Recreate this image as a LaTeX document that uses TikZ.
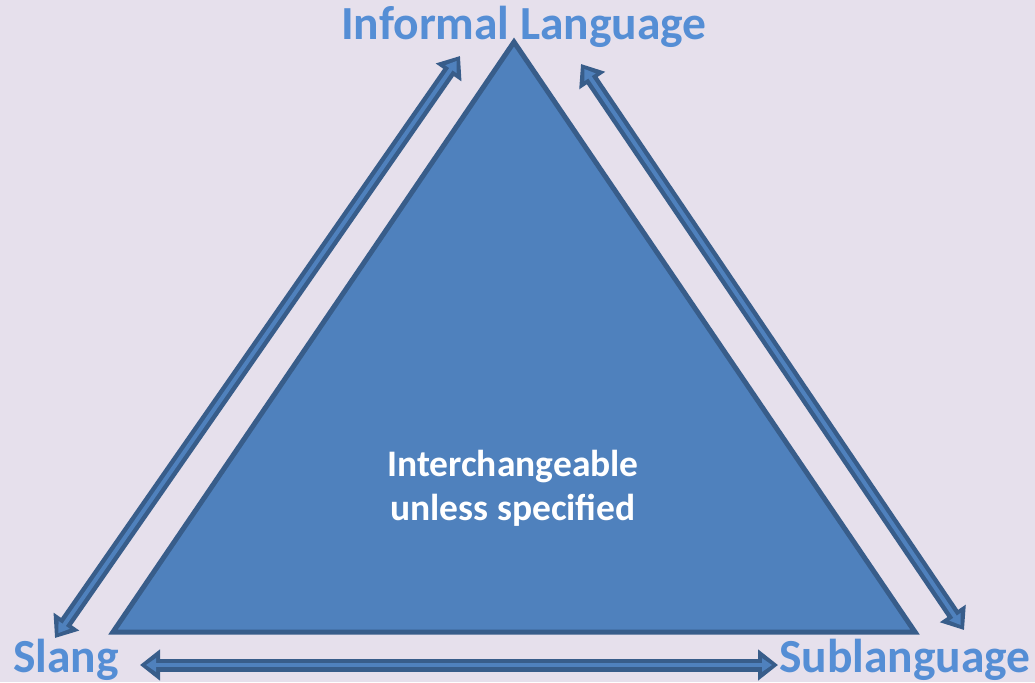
\documentclass[tikz,border=0pt]{standalone}
\usepackage{fontspec}
\setmainfont{Carlito}
\usetikzlibrary{arrows.meta}
\definecolor{bg}{HTML}{E6E0EC}
\definecolor{trifill}{HTML}{4F81BD}
\definecolor{tridraw}{HTML}{385D8A}
\definecolor{labelblue}{HTML}{558ED5}
\tikzset{
  outerarrow/.style={draw=tridraw, line width=13pt, {Triangle[length=20pt,width=30pt]}-{Triangle[length=20pt,width=30pt]}},
  innerarrow/.style={draw=trifill, line width=4pt, shorten <=6pt, shorten >=6pt, {Triangle[length=10pt,width=13pt]}-{Triangle[length=10pt,width=13pt]}},
  corner/.style={font=\bfseries\fontsize{47.5}{56}\selectfont, text=labelblue, inner sep=0pt},
  inside/.style={font=\bfseries\fontsize{37.5}{44}\selectfont, text=white, align=center, inner sep=0pt}
}
\begin{document}
\begin{tikzpicture}[x=1pt,y=-1pt]
\useasboundingbox (0,0) rectangle (1035,682);
\fill[bg] (0,0) rectangle (1035,682);
% triangle
\coordinate (A) at (514,42);
\coordinate (B) at (113,632);
\coordinate (C) at (915,632);
\draw[tridraw, fill=trifill, line width=5pt, line join=miter] (A) -- (B) -- (C) -- cycle;
% arrow ends
\coordinate (l1) at (460,56);
\coordinate (l2) at (55,638);
\coordinate (r1) at (581,64);
\coordinate (r2) at (964,630);
\coordinate (b1) at (140,665);
\coordinate (b2) at (778,665);
\foreach \p/\q in {l1/l2, r1/r2, b1/b2}{
  \draw[outerarrow] (\p) -- (\q);
  \draw[innerarrow] (\p) -- (\q);
}
% labels
\node[corner] (inf) at (524,27) {Informal Language};
\node[corner, anchor=west] (slang) at (13,660) {Slang};
\node[corner, anchor=west] (sub) at (779,660) {Sublanguage};
\node[inside] (mid) at (513,488) {Interchangeable\\unless specified};
\end{tikzpicture}
\end{document}
